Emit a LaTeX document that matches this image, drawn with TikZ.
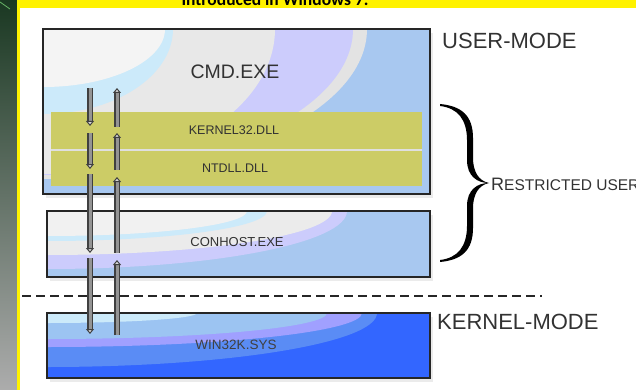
\documentclass[tikz,border=0pt]{standalone}
\usepackage{fontspec}
\setmainfont{Liberation Sans}
\newfontfamily\headfont{Carlito}
\usetikzlibrary{arrows.meta,positioning}

\definecolor{dllolive}{RGB}{204,204,102}
\definecolor{paleblue}{RGB}{168,200,240}
\definecolor{lavender}{RGB}{204,204,252}
\definecolor{palecyan}{RGB}{204,234,250}
\definecolor{lightblue}{RGB}{156,196,242}
\definecolor{violet}{RGB}{160,160,255}
\definecolor{midblue}{RGB}{90,140,245}
\definecolor{deepblue}{RGB}{51,102,255}
\definecolor{textgray}{RGB}{50,50,50}
\definecolor{stripgreen}{RGB}{26,56,34}

\tikzset{
  layer/.style={draw=black!85, line width=1.6pt},
  shadowbox/.style={fill=black!8},
  tag/.style={text=textgray, inner sep=0pt},
  pipe/.style={draw=black!42, line width=3pt,
    -{Triangle[length=5pt, width=8pt, line width=1pt, color=black!75, fill=gray!30]},
    preaction={draw=black!75, line width=6pt, arrows=-, shorten >=4pt}},
}

\begin{document}
\begin{tikzpicture}[x=1pt,y=-1pt]
  \useasboundingbox (0,0) rectangle (636,390);

  % slide frame
  \shade[top color=stripgreen, bottom color=gray!65] (0,0) rectangle (17,390);
  \draw[green!50!black!60, line width=0.8pt] (0,2) -- (10,9);
  \fill[yellow] (17,0) rectangle (20,390);
  \fill[yellow] (17,0) rectangle (636,8);
  \node[anchor=base, font=\headfont\bfseries\fontsize{17.5}{17.5}\selectfont] (title) at (275,5.5) {Introduced in Windows 7.};

  % cmd.exe
  \fill[shadowbox] (46,33) rectangle (433,198);
  \begin{scope}
    \clip (43,29) rectangle (430,194);
    \fill[paleblue] (43,29) rectangle (430,194);
    \fill[gray!22] (43,29) ellipse [x radius=324pt, y radius=150pt];
    \fill[lavender] (43,29) ellipse [x radius=310pt, y radius=146pt];
    \fill[gray!18] (43,29) ellipse [x radius=232pt, y radius=145pt];
    \fill[palecyan] (43,29) ellipse [x radius=130pt, y radius=85pt];
    \fill[gray!9] (43,29) ellipse [x radius=122pt, y radius=58pt];
  \end{scope}
  \fill[dllolive] (51,112) rectangle (422,186);
  \draw[gray!25, line width=1.2pt] (51,150) -- (422,150);
  \draw[layer] (43,29) rectangle (430,194);
  \node[tag, font=\fontsize{19.5}{19.5}\selectfont] (cmdexe) at (235,72) {CMD.EXE};
  \node[tag, font=\fontsize{12.5}{12.5}\selectfont] (kernel32) at (234,130) {KERNEL32.DLL};
  \node[tag, font=\fontsize{12.5}{12.5}\selectfont] (ntdll) at (235,168) {NTDLL.DLL};

  % conhost.exe
  \fill[shadowbox] (50,215) rectangle (433,281);
  \begin{scope}
    \clip (47,211) rectangle (430,277);
    \fill[paleblue] (47,211) rectangle (430,277);
    \fill[lavender] (47,211) ellipse [x radius=300pt, y radius=58pt];
    \fill[gray!16] (47,211) ellipse [x radius=285pt, y radius=44pt];
    \fill[palecyan] (47,211) ellipse [x radius=220pt, y radius=30pt];
    \fill[gray!11] (47,211) ellipse [x radius=200pt, y radius=25pt];
  \end{scope}
  \draw[layer] (47,211) rectangle (430,277);
  \node[tag, font=\fontsize{13}{13}\selectfont] (conhost) at (237,242) {CONHOST.EXE};

  % user / kernel boundary
  \draw[black!85, line width=2.8pt, dash pattern=on 9pt off 5pt] (22,296) -- (542,296);

  % win32k.sys
  \fill[shadowbox] (50,317) rectangle (433,382);
  \begin{scope}
    \clip (47,313) rectangle (430,378);
    \fill[deepblue] (47,313) rectangle (430,378);
    \fill[midblue] (47,313) ellipse [x radius=330pt, y radius=54pt];
    \fill[violet] (47,313) ellipse [x radius=315pt, y radius=34pt];
    \fill[lightblue] (47,313) ellipse [x radius=280pt, y radius=26pt];
    \fill[palecyan] (47,313) ellipse [x radius=150pt, y radius=10pt];
  \end{scope}
  \draw[layer] (47,313) rectangle (430,378);
  \node[tag, text=black!75, font=\fontsize{13.5}{13.5}\selectfont] (winkrnl) at (236,345) {WIN32K.SYS};

  % calls going down and coming back up
  \foreach \i/\a/\b in {1/88/126, 2/133/169, 3/174/253, 4/258/334} {
    \coordinate (dn\i a) at (90,\a);
    \coordinate (dn\i b) at (90,\b);
    \draw[pipe] (dn\i a) -- (dn\i b);
  }
  \foreach \i/\a/\b in {1/127/88, 2/170/133, 3/253/177, 4/335/260} {
    \coordinate (up\i a) at (117,\a);
    \coordinate (up\i b) at (117,\b);
    \draw[pipe] (up\i a) -- (up\i b);
  }

  % mode labels
  \node[tag, anchor=west, font=\fontsize{22}{22}\selectfont] (usermode) at (442,41) {USER-MODE};
  \node[tag, anchor=west, font=\fontsize{22}{22}\selectfont] (kernelmode) at (437,322) {KERNEL-MODE};

  % brace over cmd.exe and conhost.exe
  \fill (440,104) .. controls (462,106) and (473,116) .. (473,138)
    -- (473,158) .. controls (473,172) and (479,181) .. (489,183)
    .. controls (477,183) and (467,176) .. (467,160)
    -- (467,140) .. controls (467,120) and (458,108) .. (440,106) -- cycle;
  \fill (440,262) .. controls (462,260) and (473,250) .. (473,228)
    -- (473,208) .. controls (473,194) and (479,185) .. (489,183)
    .. controls (477,183) and (467,190) .. (467,206)
    -- (467,226) .. controls (467,246) and (458,258) .. (440,260) -- cycle;
  \node[tag, anchor=west] (restricted) at (491,184)
    {\fontsize{18}{18}\selectfont R\fontsize{15.5}{15.5}\selectfont ESTRICTED USER};
\end{tikzpicture}
\end{document}
